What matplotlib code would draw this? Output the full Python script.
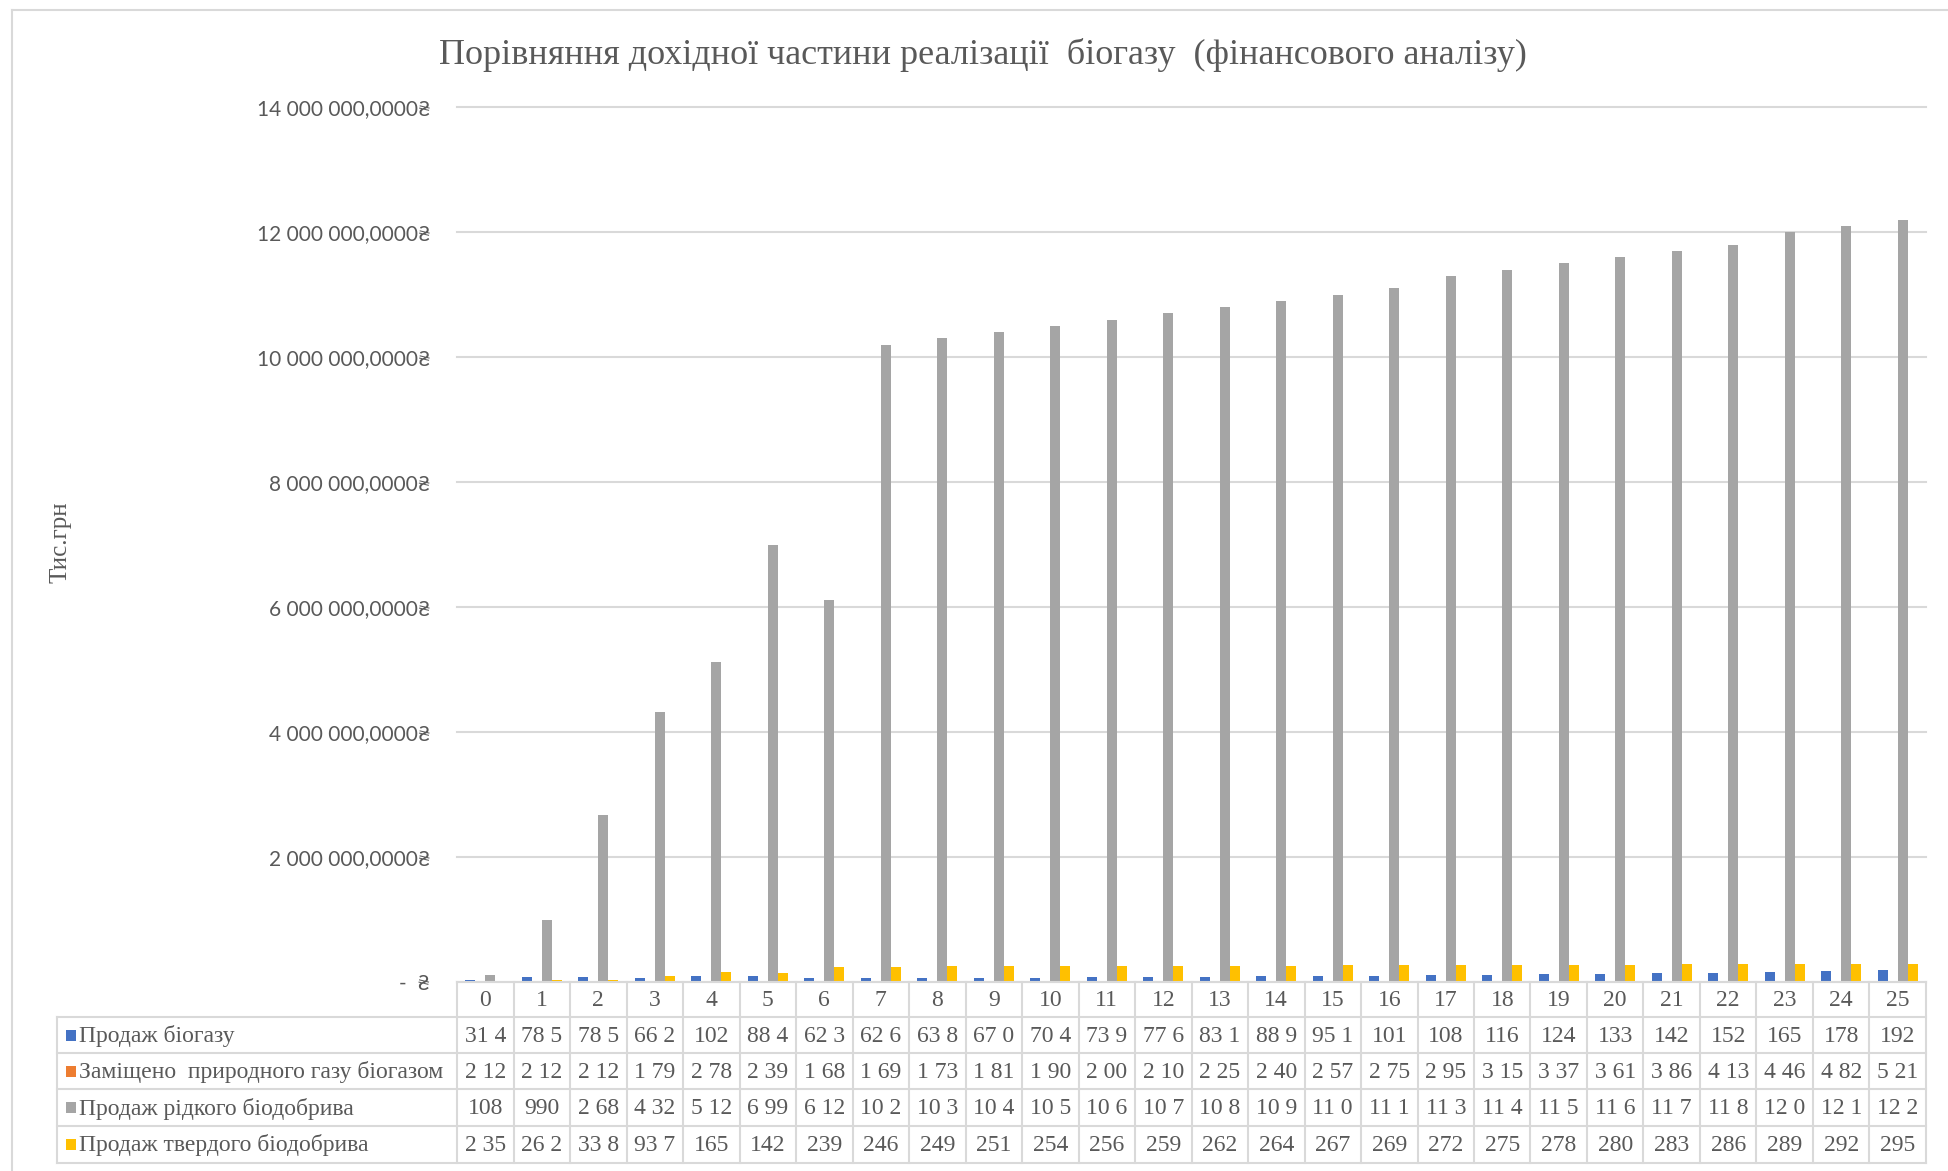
import matplotlib
matplotlib.use("Agg")
import matplotlib.pyplot as plt
from matplotlib import font_manager
from matplotlib.patches import Rectangle
from matplotlib.lines import Line2D

# ---- data (values in the chart's display units) ----
years = list(range(26))
series_names = [
    "Продаж біогазу",
    "Заміщено  природного газу біогазом",
    "Продаж рідкого біодобрива",
    "Продаж твердого біодобрива",
]
biogas_sales = [31400, 78500, 78500, 66200, 102000, 88400, 62300, 62600, 63800,
                67000, 70400, 73900, 77600, 83100, 88900, 95100, 101000, 108000,
                116000, 124000, 133000, 142000, 152000, 165000, 178000, 192000]
gas_replaced = [2120, 2120, 2120, 1790, 2780, 2390, 1680, 1690, 1730, 1810, 1900,
                2000, 2100, 2250, 2400, 2570, 2750, 2950, 3150, 3370, 3610, 3860,
                4130, 4460, 4820, 5210]
liquid_fert = [108000, 990000, 2680000, 4320000, 5120000, 6990000, 6120000,
               10200000, 10300000, 10400000, 10500000, 10600000, 10700000,
               10800000, 10900000, 11000000, 11100000, 11300000, 11400000,
               11500000, 11600000, 11700000, 11800000, 12000000, 12100000, 12200000]
solid_fert = [2350, 26200, 33800, 93700, 165000, 142000, 239000, 246000, 249000,
              251000, 254000, 256000, 259000, 262000, 264000, 267000, 269000,
              272000, 275000, 278000, 280000, 283000, 286000, 289000, 292000, 295000]
y_ticks = [0, 2000000, 4000000, 6000000, 8000000, 10000000, 12000000, 14000000]

title = "Порівняння дохідної частини реалізації  біогазу  (фінансового аналізу)"
y_title = "Тис.грн"

series = [biogas_sales, gas_replaced, liquid_fert, solid_fert]
colors = ["#4472C4", "#ED7D31", "#A5A5A5", "#FFC000"]
text_color = "#595959"
line_color = "#D9D9D9"

installed = {f.name for f in font_manager.fontManager.ttflist}
if "Liberation Sans Narrow" in installed:
    tick_family, tick_size = ["Liberation Sans Narrow", "DejaVu Sans"], 17
else:
    tick_family, tick_size = ["Lato", "DejaVu Sans"], 15
serif = ["Liberation Serif", "DejaVu Serif"]

W, H = 1948, 1171
fig = plt.figure(figsize=(W / 100, H / 100), dpi=100)
fig.patch.set_facecolor("white")


def fx(px):
    return px / W


def fy(py):
    return 1 - py / H


# chart frame
fig.add_artist(Line2D([fx(12), fx(W + 5)], [fy(10), fy(10)], color=line_color, lw=1.5))
fig.add_artist(Line2D([fx(12), fx(12)], [fy(10), fy(H + 5)], color=line_color, lw=1.5))

# ---- bar plot ----
plot_l, plot_r, plot_t, plot_b = 457, 1926, 107, 982
ax = fig.add_axes([fx(plot_l), fy(plot_b), fx(plot_r - plot_l), fy(plot_t) - fy(plot_b)])
n = len(series)
bw = 10 / ((plot_r - plot_l) / len(years))
for i, (vals, c) in enumerate(zip(series, colors)):
    xs = [x + (i - (n - 1) / 2) * bw for x in years]
    ax.bar(xs, vals, width=bw, color=c, zorder=3, linewidth=0)

ax.set_xlim(-0.5, len(years) - 0.5)
ax.set_ylim(0, y_ticks[-1])
ax.set_yticks(y_ticks)


def money(v):
    if v == 0:
        return "-  ₴"
    return f"{v:,.4f}".replace(",", " ").replace(".", ",") + "₴"


ax.set_yticklabels([money(v) for v in y_ticks], family=tick_family,
                   fontsize=tick_size, color=text_color)
ax.tick_params(axis="y", length=0, pad=19)
ax.tick_params(axis="x", length=0, labelbottom=False)
ax.set_xticks([])
for v in y_ticks:
    ax.axhline(v, color=line_color, lw=1.5, zorder=1, clip_on=False)
for s in ax.spines.values():
    s.set_visible(False)
ax.set_facecolor("none")

fig.text(fx(983), fy(55), title, family=serif, fontsize=26, color=text_color,
         ha="center", va="center")
fig.text(fx(61), fy(542), y_title, family=serif, fontsize=18, color=text_color,
         rotation=90, ha="center", va="center")

# ---- data table below the plot ----
tab_l, tab_t, tab_b = 57, 982, 1163
col_w = (plot_r - plot_l) / len(years)
tab = fig.add_axes([fx(tab_l), fy(tab_b), fx(plot_r - tab_l), fy(tab_t) - fy(tab_b)])
x_left = -0.5 - (plot_l - tab_l) / col_w
tab.set_xlim(x_left, len(years) - 0.5)
tab.set_ylim(tab_b - tab_t, 0)
tab.axis("off")

row_edges = [0, 35, 71, 107, 144, 181]
# horizontal rules
tab.plot([-0.5, len(years) - 0.5], [0, 0], color=line_color, lw=1.5, clip_on=False)
for r in row_edges[1:]:
    tab.plot([x_left, len(years) - 0.5], [r, r], color=line_color, lw=1.5, clip_on=False)
# vertical rules
tab.plot([x_left, x_left], [row_edges[1], row_edges[-1]], color=line_color, lw=1.5, clip_on=False)
for k in range(len(years) + 1):
    xk = k - 0.5
    tab.plot([xk, xk], [0, row_edges[-1]], color=line_color, lw=1.5, clip_on=False)


def cell_text(v):
    s = f"{v:,.4f}".replace(",", " ").replace(".", ",")
    return s[:4].strip()


for x in years:
    tab.text(x, (row_edges[0] + row_edges[1]) / 2 + 1, str(x), family=serif,
             fontsize=17, color=text_color, ha="center", va="center")

key_w = 10 / col_w
for r, (name, vals, c) in enumerate(zip(series_names, series, colors)):
    yc = (row_edges[r + 1] + row_edges[r + 2]) / 2
    tab.add_patch(Rectangle((x_left + 9 / col_w, yc - 5.5), key_w, 11,
                            facecolor=c, edgecolor="none", clip_on=False))
    tab.text(x_left + 22 / col_w, yc + 1, name, family=serif, fontsize=17,
             color=text_color, ha="left", va="center")
    for x, v in zip(years, vals):
        tab.text(x, yc + 1, cell_text(v), family=serif, fontsize=17,
                 color=text_color, ha="center", va="center")

fig.savefig("out.png", dpi=100, facecolor="white")
